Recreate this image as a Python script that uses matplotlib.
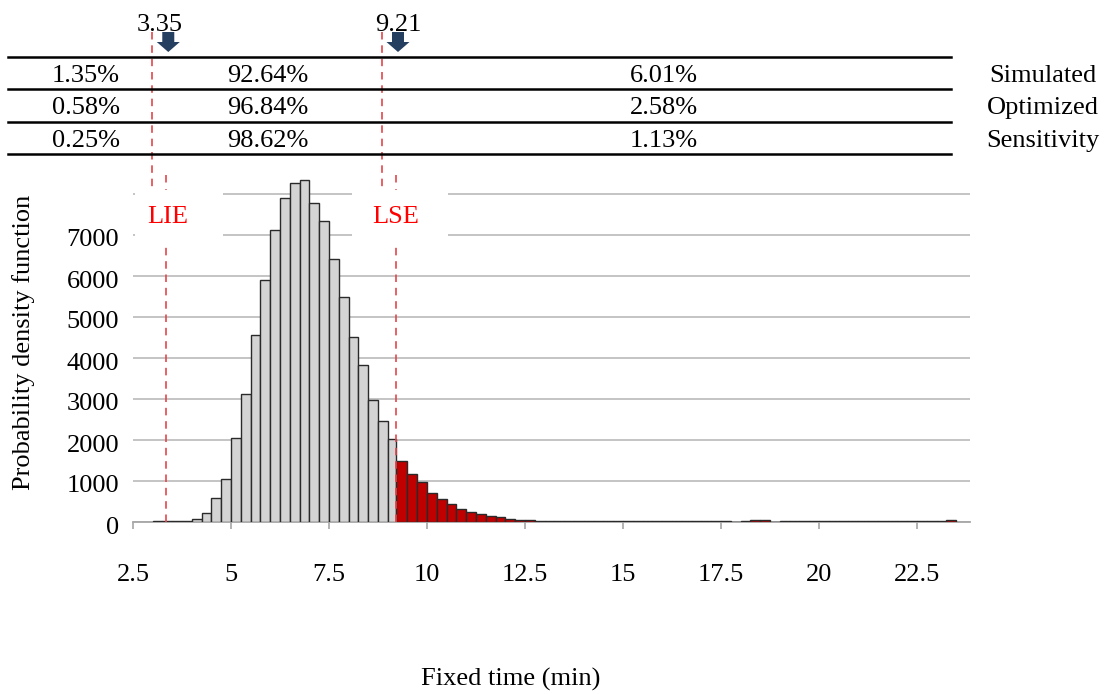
import numpy as np
import matplotlib
matplotlib.use('Agg')
import matplotlib.pyplot as plt
from matplotlib.patches import Rectangle, FancyArrow
from matplotlib.lines import Line2D
from matplotlib.transforms import blended_transform_factory, ScaledTranslation

plt.rcParams['font.family'] = ['Liberation Serif', 'DejaVu Serif']

# ---------------- data ----------------
LIE = 3.35
LSE = 9.21

# in-spec histogram (grey): bins of 0.25 from 3.0, last bin cut at LSE
gray_edges = np.append(np.arange(3.0, 9.01, 0.25), LSE)
gray_counts = [20, 20, 20, 25, 80, 228, 590, 1057, 2057, 3130, 4569, 5911,
               7114, 7902, 8276, 8341, 7780, 7350, 6423, 5480, 4504, 3821,
               2984, 2472, 2016]

# out-of-spec histogram (red): from LSE, then bins of 0.25 up to 23.5
red_edges = np.concatenate([[LSE], np.arange(9.5, 23.51, 0.25)])
red_counts = [1490, 1180, 967, 705, 566, 443, 320, 254, 205, 148, 115, 82, 57,
              41, 32,
              28, 26, 25, 24, 24, 23, 23, 22, 22, 22, 22, 22, 22, 22, 22, 22, 22, 22, 22,
              0, 35, 40, 40, 0, 30, 22, 22, 22, 22, 22, 22, 22, 22, 22, 22, 22, 22, 22, 22, 22,
              22, 40]

x_ticks = [2.5, 5, 7.5, 10, 12.5, 15, 17.5, 20, 22.5]
x_tick_labels = ['2.5', '5', '7.5', '10', '12.5', '15', '17.5', '20', '22.5']
y_ticks = [0, 1000, 2000, 3000, 4000, 5000, 6000, 7000, 8000]
y_tick_labels = ['0', '1000', '2000', '3000', '4000', '5000', '6000', '7000', '']

row_names = ['Simulated', 'Optimized', 'Sensitivity']
pct_below_lie = ['1.35%', '0.58%', '0.25%']
pct_within = ['92.64%', '96.84%', '98.62%']
pct_above_lse = ['6.01%', '2.58%', '1.13%']

# ---------------- figure ----------------
W, H = 1107, 694
fig = plt.figure(figsize=(W / 100, H / 100), dpi=100)
fig.patch.set_facecolor('white')


def fx(px):
    return px / W


def fy(px):
    return 1 - px / H


ax_l, ax_r, ax_t, ax_b = 133, 970, 153, 522
ax = fig.add_axes([fx(ax_l), fy(ax_b), (ax_r - ax_l) / W, (ax_b - ax_t) / H])
px_per_unit = 39.2
ax.set_xlim(2.5, 2.5 + (ax_r - ax_l) / px_per_unit)
ax.set_ylim(0, 9000)

fs = 19
for s in ['top', 'right', 'left']:
    ax.spines[s].set_visible(False)
ax.spines['bottom'].set_color('#a6a6a6')
ax.spines['bottom'].set_linewidth(1.3)
ax.set_axisbelow(True)
ax.yaxis.grid(True, color='#bfbfbf', lw=1.3, zorder=0.5)

ax.set_xticks(x_ticks)
ax.set_xticklabels(x_tick_labels, fontsize=fs)
ax.set_yticks(y_ticks)
ax.set_yticklabels(y_tick_labels, fontsize=fs)
ax.tick_params(axis='x', direction='out', length=5, width=1.2, color='#a6a6a6', pad=25)
ax.tick_params(axis='y', length=0, pad=10)
shift = ScaledTranslation(0, -3 / 100, fig.dpi_scale_trans)
for lab in ax.get_yticklabels():
    lab.set_transform(lab.get_transform() + shift)

edge_c = '#2a2a2a'
ax.bar(gray_edges[:-1], gray_counts, width=np.diff(gray_edges), align='edge',
       color='#d4d4d4', edgecolor=edge_c, linewidth=1.0, zorder=3)
ax.bar(red_edges[:-1], red_counts, width=np.diff(red_edges), align='edge',
       color='#c00000', edgecolor=edge_c, linewidth=1.0, zorder=3)

# white label boxes hiding gridlines
box_bottom = (ax_b - 242) / 41.0 * 1000
box_top = (ax_b - 188) / 41.0 * 1000
ax.add_patch(Rectangle((LIE - 0.8, box_bottom), 2.25, box_top - box_bottom,
                       facecolor='white', edgecolor='none', zorder=1))
ax.add_patch(Rectangle((LSE - 1.12, box_bottom), 2.45, box_top - box_bottom,
                       facecolor='white', edgecolor='none', zorder=1))

dash_c = '#e2474b'
dash_ls = (0, (4.5, 3.5))
for v in (LIE, LSE):
    ax.plot([v, v], [0, box_bottom], color=dash_c, lw=1.2, ls=dash_ls, zorder=4)
ax.text(LIE + 0.03, (ax_b - 217) / 41.0 * 1000, 'LIE', color='red', fontsize=fs,
        ha='center', va='center', zorder=5)
ax.text(LSE, (ax_b - 217) / 41.0 * 1000, 'LSE', color='red', fontsize=fs,
        ha='center', va='center', zorder=5)

# upper annotations (x in data, y in figure)
trans = blended_transform_factory(ax.transData, fig.transFigure)
for v in (LIE, LSE):
    fig.add_artist(Line2D([v - 0.36, v - 0.36], [fy(32), fy(190)], transform=trans,
                          color=dash_c, lw=1.2, ls=dash_ls))
    fig.add_artist(Line2D([v, v], [fy(175), fy(190)], transform=trans,
                          color=dash_c, lw=1.2, ls=(0, (4.5, 4))))
    fig.add_artist(FancyArrow(v + 0.05, fy(32), 0, -(20 / H), width=12 / px_per_unit,
                              head_width=23 / px_per_unit, head_length=10 / H,
                              length_includes_head=True, transform=trans,
                              color='#243f60', lw=0))
fig.text(LIE - 0.16, fy(31), f'{LIE:.2f}', transform=trans, fontsize=fs,
         ha='center', va='baseline')
fig.text(LSE + 0.05, fy(31), f'{LSE:.2f}', transform=trans, fontsize=fs,
         ha='center', va='baseline')

# table
for ypx in (57, 89, 122, 154):
    fig.add_artist(Line2D([fx(8), fx(951)], [fy(ypx), fy(ypx)], color='black', lw=1.8))
row_base = [82, 114, 147]
for i in range(3):
    fig.text(fx(86), fy(row_base[i]), pct_below_lie[i], fontsize=fs, ha='center', va='baseline')
    fig.text(fx(268), fy(row_base[i]), pct_within[i], fontsize=fs, ha='center', va='baseline')
    fig.text(fx(664), fy(row_base[i]), pct_above_lse[i], fontsize=fs, ha='center', va='baseline')
    fig.text(fx(1043), fy(row_base[i]), row_names[i], fontsize=fs, ha='center', va='baseline')

# axis titles
fig.text(fx(24), fy(342), 'Probability density function', fontsize=fs,
         rotation=90, ha='center', va='center')
fig.text(fx(511), fy(679), 'Fixed time (min)', fontsize=fs, ha='center', va='center')

fig.savefig('out.png', dpi=100, facecolor='white')
